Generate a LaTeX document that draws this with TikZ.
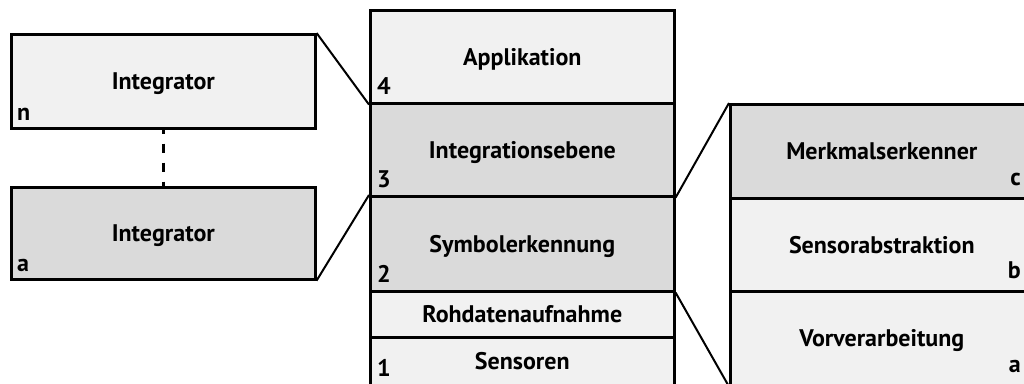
\documentclass[tikz,border=0pt]{standalone}
\usepackage{fontspec}
\setmainfont{PT Sans}
\definecolor{boxlight}{HTML}{F1F1F1}
\definecolor{boxdark}{HTML}{DADADA}
\begin{document}
\begin{tikzpicture}[x=1pt,y=-1pt,
  txt/.style={font=\bfseries\fontsize{24}{26}\selectfont},
  box/.style={draw=black, line width=2.6pt, txt, inner sep=0pt, text depth=0pt, anchor=north west, minimum width=304pt},
  lite/.style={box, fill=boxlight},
  dark/.style={box, fill=boxdark},
  lab/.style={txt, inner sep=0pt},
  link/.style={line width=2pt}]
\useasboundingbox (0,0) rectangle (1024,383);
\clip (0,0) rectangle (1024,383);
% left boxes
\node[lite, minimum height=94pt] (intn) at (10,33) {Integrator};
\node[dark, minimum height=92pt] (inta) at (10,186) {Integrator};
% center stack
\node[lite, minimum height=93pt] (app) at (369,9) {Applikation};
\node[dark, minimum height=93pt] (integ) at (369,102) {Integrationsebene};
\node[dark, minimum height=95pt] (sym) at (369,195) {Symbolerkennung};
\node[lite, minimum height=46pt] (roh) at (369,290) {Rohdatenaufnahme};
\node[lite, minimum height=48pt] (sen) at (369,336) {Sensoren};
% right stack
\node[dark, minimum width=303pt, minimum height=94pt] (merk) at (729,103) {Merkmalserkenner};
\node[lite, minimum width=303pt, minimum height=93pt] (sabs) at (729,197) {Sensorabstraktion};
\node[lite, minimum width=303pt, minimum height=94pt] (vor) at (729,290) {Vorverarbeitung};
% labels
\node[lab, anchor=base west] at ([xshift=7pt,yshift=9pt]intn.south west) {n};
\node[lab, anchor=base west] at ([xshift=7pt,yshift=9pt]inta.south west) {a};
\node[lab, anchor=base west] at ([xshift=8pt,yshift=10pt]app.south west) {4};
\node[lab, anchor=base west] at ([xshift=8pt,yshift=10pt]integ.south west) {3};
\node[lab, anchor=base west] at ([xshift=8pt,yshift=10pt]sym.south west) {2};
\node[lab, anchor=base west] at ([xshift=8pt,yshift=10pt]sen.south west) {1};
\node[lab, anchor=base east] at (1021,185) {c};
\node[lab, anchor=base east] at (1021,278) {b};
\node[lab, anchor=base east] at (1021,372) {a};
% connectors
\draw[link] (intn.north east) -- (app.south west);
\draw[link] (inta.south east) -- (sym.north west);
\draw[link] (integ.south east) -- (merk.north west);
\draw[link] (sym.south east) -- (vor.south west);
\draw[line width=2.5pt, dash pattern=on 9pt off 10pt, dash phase=5pt] (intn.south) -- (inta.north);
\end{tikzpicture}
\end{document}
